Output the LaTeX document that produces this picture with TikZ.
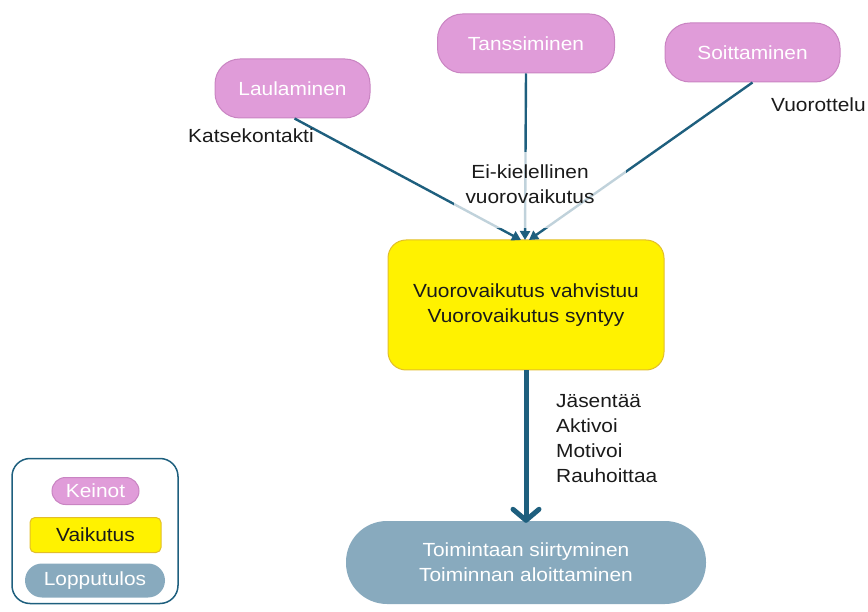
\documentclass[tikz,border=0pt]{standalone}
\usepackage{fontspec}
\setmainfont{Liberation Sans}[FakeStretch=1.1]
\usetikzlibrary{arrows.meta}

\definecolor{pinkfill}{HTML}{E09CD9}
\definecolor{pinkline}{HTML}{C984C2}
\definecolor{yelfill}{HTML}{FFF200}
\definecolor{yelline}{HTML}{E2BE2A}
\definecolor{bluefill}{HTML}{88AABE}
\definecolor{arrowcol}{HTML}{1E5F7E}
\definecolor{textcol}{HTML}{1A1A1A}

\tikzset{
  base/.style={font=\fontsize{19}{25}\selectfont, align=center, inner sep=0pt},
  keino/.style={base, rectangle, fill=pinkfill, draw=pinkline, line width=1pt,
    text=white, rounded corners=25pt},
  vaikutus/.style={base, rectangle, fill=yelfill, draw=yelline, line width=1pt,
    text=textcol, rounded corners=18pt},
  tulos/.style={base, rectangle, fill=bluefill, draw=none, text=white,
    rounded corners=41pt},
  lbl/.style={base, text=textcol},
  thin arrow/.style={draw=arrowcol, line width=2.4pt,
    -{Triangle[length=9pt,width=10pt]}},
  thick arrow/.style={draw=arrowcol, line width=5pt,
    -{Straight Barb[length=11pt,width=26pt,line cap=round,line join=round]}},
}

\begin{document}
\begin{tikzpicture}[x=1pt,y=-1pt]
\useasboundingbox (0,0) rectangle (868,612);

% means
\node[keino, minimum width=155pt, minimum height=59pt] (lau) at (292.5,88.5) {Laulaminen};
\node[keino, minimum width=177pt, minimum height=59pt] (tan) at (526,43.5) {Tanssiminen};
\node[keino, minimum width=175pt, minimum height=59pt] (soi) at (752.5,52.5) {Soittaminen};

% effect
\node[vaikutus, minimum width=276pt, minimum height=130pt] (vai) at (526,305)
  {Vuorovaikutus vahvistuu\\Vuorovaikutus syntyy};

% outcome
\node[tulos, minimum width=360pt, minimum height=83pt] (tul) at (526,562.5)
  {Toimintaan siirtyminen\\Toiminnan aloittaminen};

% connectors into the effect box
\coordinate (inL) at (521,240);
\coordinate (inC) at (525,240);
\coordinate (inR) at (529,240);
\draw[thin arrow] ([xshift=2pt]lau.south) -- (inL);
\draw[thin arrow] (tan.south) -- (inC);
\draw[thin arrow] (soi.south) -- (inR);

% translucent backdrop behind the middle label
\node[fill=white, fill opacity=0.72, minimum width=172pt, minimum height=76pt,
  inner sep=0pt] (mask) at (540,190) {};
\node[lbl] (eik) at (530,184) {Ei-kielellinen\\vuorovaikutus};

\node[lbl, anchor=west] (kat) at (188,136) {Katsekontakti};
\node[lbl, anchor=west] (vuo) at (771,105) {Vuorottelu};

% effect to outcome
\draw[thick arrow] (vai.south) -- ([yshift=-2pt]tul.north);
\node[lbl, anchor=north west, align=left] (list) at (556,394)
  {Jäsentää\\Aktivoi\\Motivoi\\Rauhoittaa};

% legend
\node[draw=arrowcol, line width=1.5pt, rounded corners=18pt, minimum width=166pt,
  minimum height=145pt, inner sep=0pt] (leg) at (95,531) {};
\node[keino, minimum width=87pt, minimum height=27pt, rounded corners=13.5pt]
  (lk) at (95.5,491) {Keinot};
\node[vaikutus, minimum width=131pt, minimum height=35pt, rounded corners=5pt]
  (lv) at (95.5,535) {Vaikutus};
\node[tulos, minimum width=140pt, minimum height=34pt, rounded corners=17pt]
  (lt) at (95,580.5) {Lopputulos};
\end{tikzpicture}
\end{document}
